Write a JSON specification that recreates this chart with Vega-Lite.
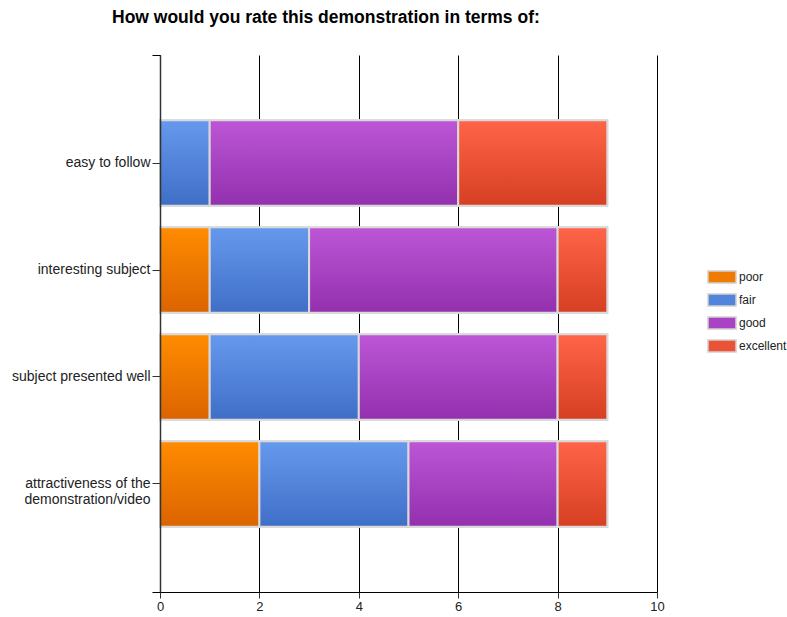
{
  "$schema": "https://vega.github.io/schema/vega-lite/v6.json",
  "width": 497,
  "height": 537,
  "autosize": "none",
  "padding": {"left": 160, "top": 55, "right": 130, "bottom": 25},
  "background": "white",
  "title": {
    "text": "How would you rate this demonstration in terms of:",
    "fontSize": 17.5,
    "fontWeight": "bold",
    "font": "Liberation Sans",
    "color": "#000000",
    "anchor": "start",
    "frame": "group",
    "dx": -48,
    "offset": 28
  },
  "data": {
    "values": [
      {"question": "easy to follow", "rating": "fair", "order": 2, "count": 1},
      {"question": "easy to follow", "rating": "good", "order": 3, "count": 5},
      {"question": "easy to follow", "rating": "excellent", "order": 4, "count": 3},
      {"question": "interesting subject", "rating": "poor", "order": 1, "count": 1},
      {"question": "interesting subject", "rating": "fair", "order": 2, "count": 2},
      {"question": "interesting subject", "rating": "good", "order": 3, "count": 5},
      {"question": "interesting subject", "rating": "excellent", "order": 4, "count": 1},
      {"question": "subject presented well", "rating": "poor", "order": 1, "count": 1},
      {"question": "subject presented well", "rating": "fair", "order": 2, "count": 3},
      {"question": "subject presented well", "rating": "good", "order": 3, "count": 4},
      {"question": "subject presented well", "rating": "excellent", "order": 4, "count": 1},
      {"question": "attractiveness of the|demonstration/video", "rating": "poor", "order": 1, "count": 2},
      {"question": "attractiveness of the|demonstration/video", "rating": "fair", "order": 2, "count": 3},
      {"question": "attractiveness of the|demonstration/video", "rating": "good", "order": 3, "count": 3},
      {"question": "attractiveness of the|demonstration/video", "rating": "excellent", "order": 4, "count": 1}
    ]
  },
  "layer": [
    {
      "transform": [
        {"stack": "count", "groupby": ["question"], "sort": [{"field": "order", "order": "ascending"}], "as": ["x0", "x1"]}
      ],
      "encoding": {
        "x": {
          "field": "x0",
          "type": "quantitative",
          "scale": {"domain": [0, 10], "nice": false, "zero": true},
          "axis": {
            "title": null,
            "values": [0, 2, 4, 6, 8, 10],
            "grid": true,
            "gridColor": "#000000",
            "gridWidth": 1,
            "gridOpacity": 1,
            "domainColor": "#000000",
            "domainWidth": 1,
            "tickColor": "#333333",
            "tickSize": 6,
            "labelFontSize": 13,
            "labelColor": "#222222",
            "labelFont": "Liberation Sans",
            "labelPadding": 2,
            "labelFlush": false
          }
        },
        "x2": {"field": "x1"},
        "y": {
          "field": "question",
          "type": "nominal",
          "sort": ["easy to follow", "interesting subject", "subject presented well", "attractiveness of the|demonstration/video"],
          "scale": {"paddingInner": 0.2, "paddingOuter": 0.61},
          "axis": {
            "title": null,
            "labelExpr": "split(datum.label, '|')",
            "labelFontSize": 14,
            "labelFont": "Liberation Sans",
            "labelColor": "#222222",
            "labelLimit": 300,
            "labelPadding": 2,
            "labelLineHeight": 16,
            "tickSize": 8,
            "tickColor": "#333333",
            "domainColor": "#333333",
            "domainWidth": 1.5,
            "zindex": 1,
            "grid": false
          }
        }
      },
      "layer": [
        {
          "mark": {"type": "bar", "stroke": "#d9d9d9", "strokeWidth": 2, "strokeJoin": "miter"},
          "encoding": {
            "color": {
              "field": "rating",
              "type": "nominal",
              "scale": {"domain": ["poor", "fair", "good", "excellent"], "range": ["#ef7c00", "#5384dc", "#a942c4", "#ec5236"]},
              "legend": {
                "title": null,
                "orient": "none",
                "legendX": 554,
                "legendY": 214,
                "symbolType": "M-2,-0.85H2V0.85H-2Z",
                "symbolSize": 196,
                "symbolStrokeColor": "#d0d0d0",
                "symbolStrokeWidth": 1.5,
                "symbolOpacity": 1,
                "labelFontSize": 12,
                "labelFont": "Liberation Sans",
                "labelColor": "#222222",
                "labelOffset": 9,
                "labelLimit": 60,
                "rowPadding": 5
              }
            }
          }
        },
        {
          "transform": [{"filter": "datum.rating == 'poor'"}],
          "mark": {"type": "bar", "stroke": "#d9d9d9", "strokeWidth": 2,
            "fill": {"gradient": "linear", "x1": 0, "y1": 0, "x2": 0, "y2": 1, "stops": [{"offset": 0, "color": "#ff8c00"}, {"offset": 1, "color": "#db6400"}]}}
        },
        {
          "transform": [{"filter": "datum.rating == 'fair'"}],
          "mark": {"type": "bar", "stroke": "#d9d9d9", "strokeWidth": 2,
            "fill": {"gradient": "linear", "x1": 0, "y1": 0, "x2": 0, "y2": 1, "stops": [{"offset": 0, "color": "#6699ee"}, {"offset": 1, "color": "#3f6ec6"}]}}
        },
        {
          "transform": [{"filter": "datum.rating == 'good'"}],
          "mark": {"type": "bar", "stroke": "#d9d9d9", "strokeWidth": 2,
            "fill": {"gradient": "linear", "x1": 0, "y1": 0, "x2": 0, "y2": 1, "stops": [{"offset": 0, "color": "#bc56d6"}, {"offset": 1, "color": "#9330ae"}]}}
        },
        {
          "transform": [{"filter": "datum.rating == 'excellent'"}],
          "mark": {"type": "bar", "stroke": "#d9d9d9", "strokeWidth": 2,
            "fill": {"gradient": "linear", "x1": 0, "y1": 0, "x2": 0, "y2": 1, "stops": [{"offset": 0, "color": "#ff6448"}, {"offset": 1, "color": "#d63f22"}]}}
        }
      ]
    },
    {
      "mark": {"type": "rule", "opacity": 0},
      "encoding": {
        "y": {
          "datum": 0,
          "type": "quantitative",
          "scale": {"domain": [0, 5], "nice": false, "zero": false},
          "axis": {
            "title": null,
            "orient": "left",
            "values": [0, 5],
            "labels": false,
            "domain": false,
            "grid": false,
            "ticks": true,
            "tickSize": 8,
            "tickColor": "#000000",
            "zindex": 1
          }
        }
      }
    }
  ],
  "resolve": {"scale": {"y": "independent"}, "axis": {"y": "independent"}},
  "config": {
    "view": {"stroke": null},
    "font": "Liberation Sans"
  }
}
